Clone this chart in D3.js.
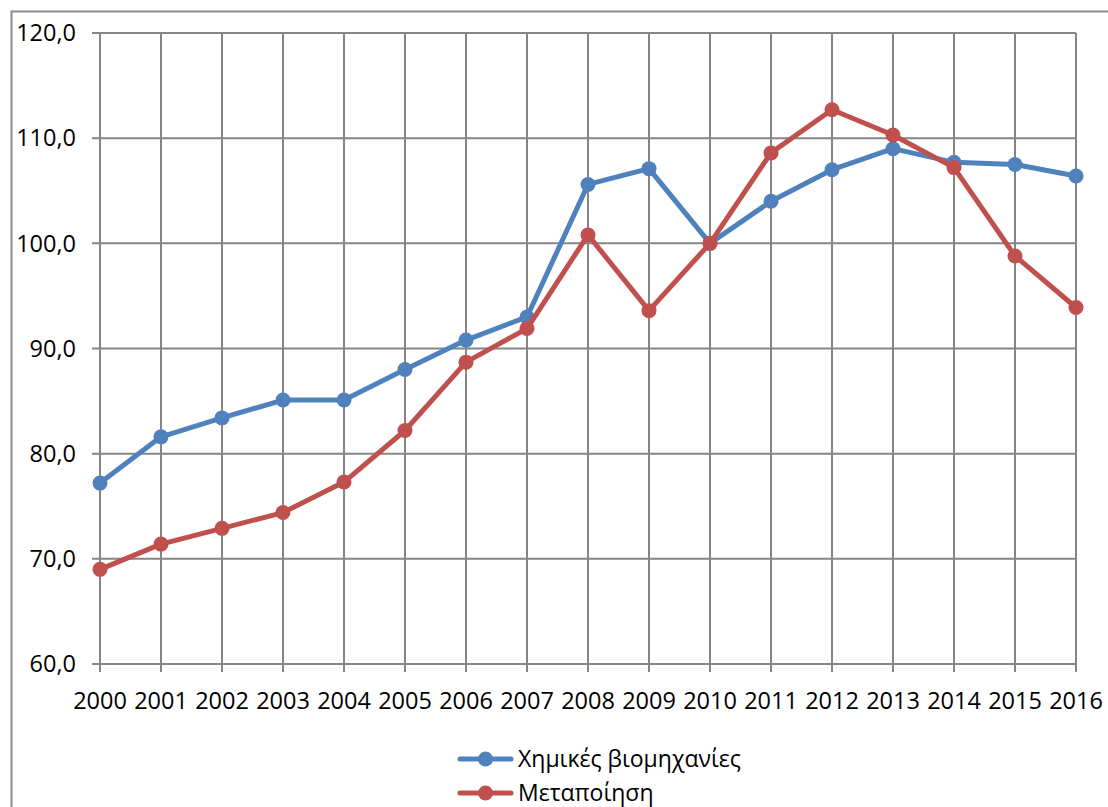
<!DOCTYPE html>
<html>
<head>
<meta charset="utf-8">
<script src="https://cdn.jsdelivr.net/npm/d3@7"></script>
<style>
  body { margin: 0; background: #fff; }
  text { font-family: "Open Sans", sans-serif; fill: #000; }
</style>
</head>
<body>
<div id="chart"></div>
<script>
// data
const years = ["2000","2001","2002","2003","2004","2005","2006","2007","2008",
               "2009","2010","2011","2012","2013","2014","2015","2016"];
const chemicals = [77.2, 81.6, 83.4, 85.1, 85.1, 88.0, 90.8, 93.0, 105.6,
                   107.1, 100.0, 104.0, 107.0, 109.0, 107.7, 107.5, 106.4];
const manufacturing = [69.0, 71.4, 72.9, 74.4, 77.3, 82.2, 88.7, 91.9, 100.8,
                       93.6, 100.0, 108.6, 112.7, 110.3, 107.2, 98.8, 93.9];
const yTicks = [60, 70, 80, 90, 100, 110, 120];

const series = [
  { name: "Χημικές βιομηχανίες", values: chemicals, color: "#4F81BD" },
  { name: "Μεταποίηση", values: manufacturing, color: "#C0504D" }
];

const width = 1108, height = 807;
const margin = { top: 33, right: 32, bottom: 143, left: 100 };

const svg = d3.select("#chart").append("svg")
    .attr("width", width)
    .attr("height", height);

// outer chart frame (right and bottom edges fall outside the picture)
svg.append("rect")
    .attr("x", 11.5).attr("y", 11.5)
    .attr("width", width + 20).attr("height", height + 20)
    .attr("fill", "none")
    .attr("stroke", "#8c8c8c")
    .attr("stroke-width", 2);

const x = d3.scalePoint().domain(years).range([margin.left, width - margin.right]);
const y = d3.scaleLinear().domain([60, 120]).range([height - margin.bottom, margin.top]);

const grid = svg.append("g");
const gridColor = "#868686";

// horizontal grid lines + y tick marks
grid.selectAll(".hline")
  .data(yTicks)
  .enter().append("line")
    .attr("x1", margin.left - 8)
    .attr("x2", width - margin.right)
    .attr("y1", d => y(d))
    .attr("y2", d => y(d))
    .attr("stroke", gridColor)
    .attr("stroke-width", 2);

// vertical grid lines + x tick marks
grid.selectAll(".vline")
  .data(years)
  .enter().append("line")
    .attr("x1", d => x(d))
    .attr("x2", d => x(d))
    .attr("y1", margin.top)
    .attr("y2", height - margin.bottom + 8)
    .attr("stroke", gridColor)
    .attr("stroke-width", 2);

// y labels
svg.selectAll(".ylab")
  .data(yTicks)
  .enter().append("text")
    .attr("x", 76)
    .attr("y", d => y(d))
    .attr("dy", "0.35em")
    .attr("text-anchor", "end")
    .style("font-size", "23.5px")
    .text(d => d.toFixed(1).replace(".", ","));

// x labels
svg.selectAll(".xlab")
  .data(years)
  .enter().append("text")
    .attr("x", d => x(d))
    .attr("y", 709)
    .attr("text-anchor", "middle")
    .style("font-size", "23.5px")
    .text(d => d);

const line = d3.line()
    .x((d, i) => x(years[i]))
    .y(d => y(d));

series.forEach(s => {
  svg.append("path")
      .datum(s.values)
      .attr("d", line)
      .attr("fill", "none")
      .attr("stroke", s.color)
      .attr("stroke-width", 5)
      .attr("stroke-linejoin", "round");

  svg.append("g").selectAll("circle")
    .data(s.values)
    .enter().append("circle")
      .attr("cx", (d, i) => x(years[i]))
      .attr("cy", d => y(d))
      .attr("r", 7.5)
      .attr("fill", s.color);
});

// legend
const legend = svg.append("g")
  .selectAll("g")
  .data(series)
  .enter().append("g")
    .attr("transform", (d, i) => `translate(460, ${759 + i * 34})`);

legend.append("line")
    .attr("x1", 0).attr("x2", 51)
    .attr("stroke", d => d.color)
    .attr("stroke-width", 5)
    .attr("stroke-linecap", "round");

legend.append("circle")
    .attr("cx", 25.5)
    .attr("r", 7.5)
    .attr("fill", d => d.color);

legend.append("text")
    .attr("x", 58)
    .attr("dy", "0.35em")
    .style("font-size", "23px")
    .text(d => d.name);
</script>
</body>
</html>
